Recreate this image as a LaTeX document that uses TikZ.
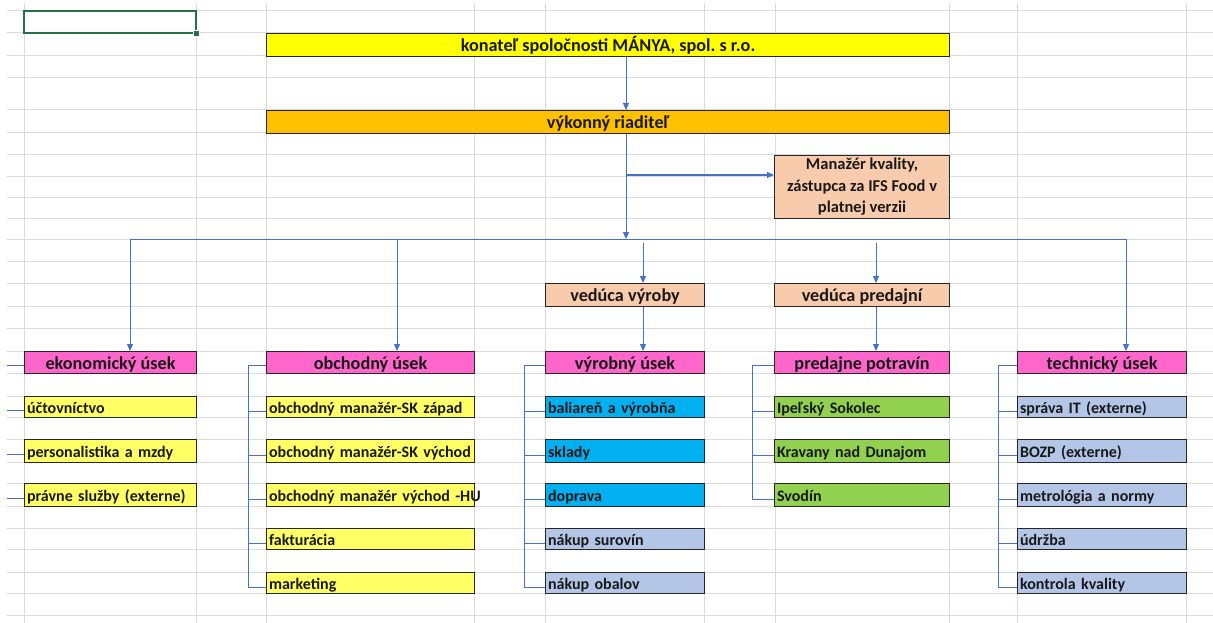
\documentclass[tikz,border=0pt]{standalone}
\usepackage{fontspec}
\setmainfont{Carlito}
\usetikzlibrary{arrows.meta,calc}
\definecolor{gridc}{HTML}{DADADA}
\definecolor{cblue}{HTML}{4472C4}
\definecolor{xlgreen}{HTML}{217346}
\definecolor{cyel}{HTML}{FFFF00}
\definecolor{cyel2}{HTML}{FFFF66}
\definecolor{corange}{HTML}{FFC000}
\definecolor{cpeach}{HTML}{F8CBAD}
\definecolor{cpink}{HTML}{FF66CC}
\definecolor{cblue2}{HTML}{00B0F0}
\definecolor{clav}{HTML}{B4C6E7}
\definecolor{cgreen}{HTML}{92D050}
\tikzset{
  gridline/.style={draw=gridc, line width=1pt},
  cell/.style={draw=black!85, line width=1.1pt, inner xsep=2.5pt, inner ysep=0pt,
    anchor=north west, text=black!90},
  head/.style={cell, align=center, font=\bfseries\fontsize{18.2}{21}\selectfont\frenchspacing,
    text height=17.5pt, text depth=4.5pt},
  item/.style={cell, text width=#1, align=left, font=\bfseries\fontsize{16}{19}\selectfont\frenchspacing,
    text height=16.5pt, text depth=4.5pt},
  conn/.style={draw=cblue, line width=1pt},
  arr/.style={conn, -{Triangle[length=7pt,width=6pt]}},
}
\begin{document}
\begin{tikzpicture}[x=1pt,y=-1pt]
\useasboundingbox (0,0) rectangle (1213,623);
\fill[white] (0,0) rectangle (1213,623);
% spreadsheet grid
\foreach \y in {11,33,56,78,110,133,155,176,197,218,239,261,283,306,328,351,373,396,417,439,462,483,506,528,549,572,593,615}
  \draw[gridline] (7,\y) -- (1213,\y);
\foreach \x in {24,196,266,474,545,704,775,949,1017,1186}
  \draw[gridline] (\x,3) -- (\x,623);
% selected cell
\draw[xlgreen, line width=2pt] (24,11) rectangle (196,33);
\filldraw[fill=xlgreen, draw=white, line width=0.8pt] (193,30) rectangle (199,36);

% top levels
\node[head, fill=cyel, minimum width=683, minimum height=23] (top) at (266,33) {konateľ spoločnosti MÁNYA, spol. s r.o.};
\node[head, fill=corange, minimum width=683, minimum height=23] (dir) at (266,110) {výkonný riaditeľ};
\node[cell, fill=cpeach, minimum width=175, minimum height=63, align=center,
      font=\bfseries\fontsize{16.5}{21.5}\selectfont] (qm) at (774,155)
      {Manažér kvality,\\zástupca za IFS Food v\\platnej verzii};
\node[head, fill=cpeach, minimum width=159, minimum height=23] (vv) at (545,283) {vedúca výroby};
\node[head, fill=cpeach, minimum width=175, minimum height=23] (vp) at (774,283) {vedúca predajní};

% department heads
\node[head, fill=cpink, minimum width=172, minimum height=22] (eko) at (24,351) {ekonomický úsek};
\node[head, fill=cpink, minimum width=208, minimum height=22] (obch) at (266,351) {obchodný úsek};
\node[head, fill=cpink, minimum width=159, minimum height=22] (vyr) at (545,351) {výrobný úsek};
\node[head, fill=cpink, minimum width=175, minimum height=22] (pred) at (774,351) {predajne potravín};
\node[head, fill=cpink, minimum width=169, minimum height=22] (tech) at (1017,351) {technický úsek};

% ekonomický
\node[item=167, fill=cyel2, minimum height=21] (e1) at (24,396) {\mbox{účtovníctvo}};
\node[item=167, fill=cyel2, minimum height=23] (e2) at (24,439) {\mbox{personalistika a mzdy}};
\node[item=167, fill=cyel2, minimum height=23] (e3) at (24,483) {\mbox{právne služby (externe)}};
% obchodný
\node[item=203, fill=cyel2, minimum height=21] (o1) at (266,396) {\mbox{obchodný manažér-SK západ}};
\node[item=203, fill=cyel2, minimum height=23] (o2) at (266,439) {\mbox{obchodný manažér-SK východ}};
\node[item=203, fill=cyel2, minimum height=23] (o3) at (266,483) {\mbox{obchodný manažér východ -HU}};
\node[item=203, fill=cyel2, minimum height=21] (o4) at (266,528) {\mbox{fakturácia}};
\node[item=203, fill=cyel2, minimum height=21] (o5) at (266,572) {\mbox{marketing}};
% výrobný
\node[item=154, fill=cblue2, minimum height=21] (v1) at (545,396) {\mbox{baliareň a výrobňa}};
\node[item=154, fill=cblue2, minimum height=23] (v2) at (545,439) {\mbox{sklady}};
\node[item=154, fill=cblue2, minimum height=23] (v3) at (545,483) {\mbox{doprava}};
\node[item=154, fill=clav, minimum height=21] (v4) at (545,528) {\mbox{nákup surovín}};
\node[item=154, fill=clav, minimum height=21] (v5) at (545,572) {\mbox{nákup obalov}};
% predajne
\node[item=170, fill=cgreen, minimum height=21] (p1) at (774,396) {\mbox{Ipeľský Sokolec}};
\node[item=170, fill=cgreen, minimum height=23] (p2) at (774,439) {\mbox{Kravany nad Dunajom}};
\node[item=170, fill=cgreen, minimum height=23] (p3) at (774,483) {\mbox{Svodín}};
% technický
\node[item=164, fill=clav, minimum height=21] (t1) at (1017,396) {\mbox{správa IT (externe)}};
\node[item=164, fill=clav, minimum height=23] (t2) at (1017,439) {\mbox{BOZP (externe)}};
\node[item=164, fill=clav, minimum height=23] (t3) at (1017,483) {\mbox{metrológia a normy}};
\node[item=164, fill=clav, minimum height=21] (t4) at (1017,528) {\mbox{údržba}};
\node[item=164, fill=clav, minimum height=21] (t5) at (1017,572) {\mbox{kontrola kvality}};

% connectors
\coordinate (bus) at (626,239);
\coordinate (qmj) at (626,175);
\coordinate (busL) at (130,239);
\coordinate (busR) at (1126,239);
\coordinate (d2) at (397,239);
\coordinate (d3) at (643,243);
\coordinate (d4) at (876,243);
\draw[arr] (top.south -| bus) -- (dir.north -| bus);
\draw[arr] (dir.south -| bus) -- (bus);
\draw[arr] (qmj) -- (qm.west |- qmj);
\draw[conn] (busL) -- (busR);
\draw[arr] (busL) -- (eko.north -| busL);
\draw[arr] (d2) -- (obch.north -| d2);
\draw[arr] (d3) -- (vv.north -| d3);
\draw[arr] (d4) -- (vp.north -| d4);
\draw[arr] (busR) -- (tech.north -| busR);
\draw[arr] (vv.south -| d3) -- (vyr.north -| d3);
\draw[arr] (vp.south -| d4) -- (pred.north -| d4);

% brackets
\coordinate (ox) at (248,0);
\coordinate (vx) at (524,0);
\coordinate (px) at (752,0);
\coordinate (tx) at (998,0);
\draw[conn] ([yshift=-3pt]obch.west) -- ([yshift=-3pt]obch.west -| ox) |- ([yshift=-4pt]o5.west);
\foreach \n in {o1,o2,o3,o4} \draw[conn] ([yshift=-4pt]\n.west) -- ([yshift=-4pt]\n.west -| ox);
\draw[conn] ([yshift=-3pt]vyr.west) -- ([yshift=-3pt]vyr.west -| vx) |- ([yshift=-4pt]v5.west);
\foreach \n in {v1,v2,v3,v4} \draw[conn] ([yshift=-4pt]\n.west) -- ([yshift=-4pt]\n.west -| vx);
\draw[conn] ([yshift=-3pt]pred.west) -- ([yshift=-3pt]pred.west -| px) |- ([yshift=-4pt]p3.west);
\foreach \n in {p1,p2} \draw[conn] ([yshift=-4pt]\n.west) -- ([yshift=-4pt]\n.west -| px);
\draw[conn] ([yshift=-3pt]tech.west) -- ([yshift=-3pt]tech.west -| tx) |- ([yshift=-4pt]t5.west);
\foreach \n in {t1,t2,t3,t4} \draw[conn] ([yshift=-4pt]\n.west) -- ([yshift=-4pt]\n.west -| tx);
\foreach \n in {eko,e1,e2,e3} \draw[conn] ([yshift=-3pt]\n.west) -- ++(-17,0);
\end{tikzpicture}
\end{document}
